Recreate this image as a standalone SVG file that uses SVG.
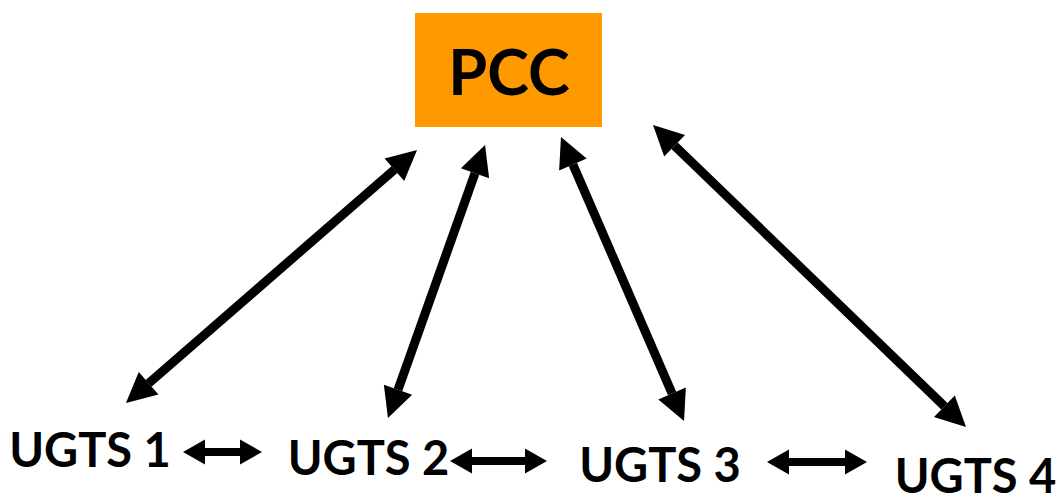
<svg xmlns="http://www.w3.org/2000/svg" width="1062" height="498" viewBox="0 0 1062 498">
  <style>
    .label { font-family: Lato, "Liberation Sans", sans-serif; font-weight: bold; fill: #000; text-anchor: middle; }
    .big { stroke: #000; stroke-width: 9; fill: none; marker-start: url(#headBig); marker-end: url(#headBig); }
    .small { stroke: #000; stroke-width: 8; fill: none; marker-start: url(#headSmall); marker-end: url(#headSmall); }
  </style>
  <defs>
    <!-- triangular heads that extend beyond the line ends -->
    <marker id="headBig" markerUnits="userSpaceOnUse" markerWidth="40" markerHeight="40" refX="0" refY="20" orient="auto-start-reverse" viewBox="0 0 40 40" overflow="visible">
      <path d="M0,5 L30,20 L0,35 Z" fill="#000"/>
    </marker>
    <marker id="headSmall" markerUnits="userSpaceOnUse" markerWidth="30" markerHeight="30" refX="0" refY="15" orient="auto-start-reverse" viewBox="0 0 30 30" overflow="visible">
      <path d="M0,2.5 L22,15 L0,27.5 Z" fill="#000"/>
    </marker>
  </defs>

  <g id="connectors">
    <line class="big" x1="394.4" y1="169.7" x2="148.6" y2="383.3"/>
    <line class="big" x1="475.0" y1="173.3" x2="398.0" y2="389.7"/>
    <line class="big" x1="572.9" y1="164.5" x2="672.1" y2="393.5"/>
    <line class="big" x1="674.6" y1="145.8" x2="944.4" y2="406.2"/>
    <line class="small" x1="205" y1="452" x2="240" y2="452"/>
    <line class="small" x1="472" y1="461" x2="525" y2="461"/>
    <line class="small" x1="789" y1="462" x2="845" y2="462"/>
  </g>

  <g id="pcc">
    <rect x="415" y="13" width="187" height="114" fill="#FF9900"/>
    <text class="label" x="509" y="95" font-size="63">PCC</text>
  </g>
  <g id="ugts1">
    <text class="label" x="90" y="467" font-size="47">UGTS 1</text>
  </g>
  <g id="ugts2">
    <text class="label" x="368.5" y="475" font-size="47">UGTS 2</text>
  </g>
  <g id="ugts3">
    <text class="label" x="660" y="482" font-size="47">UGTS 3</text>
  </g>
  <g id="ugts4">
    <text class="label" x="975.5" y="493" font-size="47">UGTS 4</text>
  </g>
</svg>
